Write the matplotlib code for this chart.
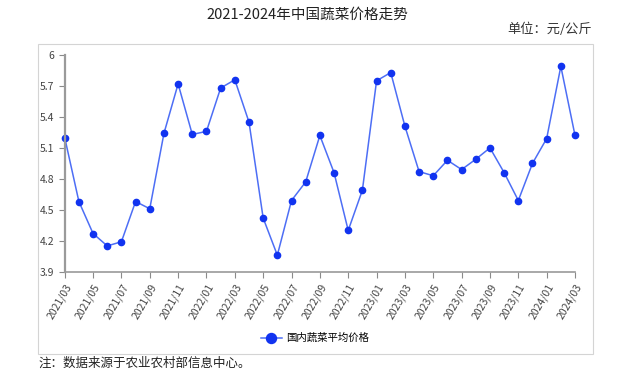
import matplotlib.pyplot as plt
from matplotlib.patches import Rectangle
import numpy as np

plt.rcParams['font.family'] = ['Noto Sans CJK SC', 'DejaVu Sans']

# 月份与价格（元/公斤）
months = ['2021/03', '2021/04', '2021/05', '2021/06', '2021/07', '2021/08', '2021/09',
          '2021/10', '2021/11', '2021/12', '2022/01', '2022/02', '2022/03', '2022/04',
          '2022/05', '2022/06', '2022/07', '2022/08', '2022/09', '2022/10', '2022/11',
          '2022/12', '2023/01', '2023/02', '2023/03', '2023/04', '2023/05', '2023/06',
          '2023/07', '2023/08', '2023/09', '2023/10', '2023/11', '2023/12', '2024/01',
          '2024/02', '2024/03']
price = [5.20, 4.58, 4.27, 4.15, 4.19, 4.58, 4.51, 5.24, 5.72, 5.23, 5.26, 5.68, 5.76,
         5.35, 4.42, 4.06, 4.59, 4.77, 5.22, 4.86, 4.30, 4.69, 5.75, 5.83, 5.31, 4.87,
         4.83, 4.98, 4.89, 4.99, 5.10, 4.86, 4.59, 4.95, 5.19, 5.89, 5.22]
yticks = [3.9, 4.2, 4.5, 4.8, 5.1, 5.4, 5.7, 6]
ytick_labels = ['3.9', '4.2', '4.5', '4.8', '5.1', '5.4', '5.7', '6']

fig = plt.figure(figsize=(6.24, 3.77), dpi=100)

# 外框
fig.patches.append(Rectangle((0.061, 0.061), 0.889, 0.822, transform=fig.transFigure,
                             fill=False, edgecolor='#d4d4d4', linewidth=0.8))

ax = fig.add_axes([0.1037, 0.2793, 0.8178, 0.5748])
x = np.arange(len(months))
ax.plot(x, price, color='#4d6ef5', linewidth=1.1, marker='o', markersize=4.5,
        markerfacecolor='#1133f0', markeredgecolor='#1133f0', clip_on=False,
        label='国内蔬菜平均价格')

ax.set_xlim(0, len(months) - 1)
ax.set_ylim(3.9, 6)
ax.set_yticks(yticks)
ax.set_yticklabels(ytick_labels)
ax.set_xticks(x[::2])
ax.set_xticklabels(months[::2], rotation=60, ha='right', rotation_mode='anchor')

for s in ['top', 'right']:
    ax.spines[s].set_visible(False)
ax.spines['left'].set_color('#9a9a9a')
ax.spines['left'].set_linewidth(1.6)
ax.spines['bottom'].set_color('#9a9a9a')
ax.spines['bottom'].set_linewidth(1.2)
ax.tick_params(axis='both', colors='#8a8a8a', labelcolor='#444444', labelsize=7.5,
               length=4, width=0.8)

ax.legend(loc='upper center', bbox_to_anchor=(0.49, -0.24), frameon=False,
          fontsize=7.5, handlelength=2.0, handletextpad=0.4, markerscale=1.6)

fig.text(0.493, 0.962, '2021-2024年中国蔬菜价格走势', ha='center', va='center',
         fontsize=10.5, color='#222222')
fig.text(0.948, 0.922, '单位：元/公斤', ha='right', va='center', fontsize=9.5,
         color='#333333')
fig.text(0.061, 0.037, '注：数据来源于农业农村部信息中心。', ha='left', va='center',
         fontsize=9, color='#222222')

plt.savefig('out.png', dpi=100)
